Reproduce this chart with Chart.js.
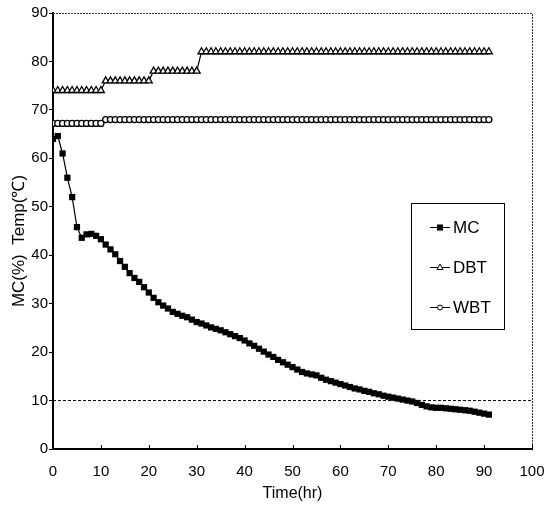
<!DOCTYPE html>
<html>
<head>
<meta charset="utf-8">
<script src="https://cdn.jsdelivr.net/npm/chart.js@4/dist/chart.umd.min.js"></script>
<style>
  html, body { margin: 0; padding: 0; background: #fff; }
  #wrap { width: 553px; height: 507px; }
</style>
</head>
<body>
<div id="wrap"><canvas id="chart-drying"></canvas></div>
<script>
// Drying schedule: moisture content and dry/wet bulb temps, hourly readings
const hours = [
    0, 1, 2, 3, 4, 5, 6, 7, 8, 9, 10, 11, 12, 13, 14, 15, 16, 17, 18, 19,
    20, 21, 22, 23, 24, 25, 26, 27, 28, 29, 30, 31, 32, 33, 34, 35, 36, 37, 38, 39,
    40, 41, 42, 43, 44, 45, 46, 47, 48, 49, 50, 51, 52, 53, 54, 55, 56, 57, 58, 59,
    60, 61, 62, 63, 64, 65, 66, 67, 68, 69, 70, 71, 72, 73, 74, 75, 76, 77, 78, 79,
    80, 81, 82, 83, 84, 85, 86, 87, 88, 89, 90, 91
];
const mcValues = [
    64.0, 64.6, 61.0, 56.0, 52.0, 45.8, 43.6, 44.3, 44.4, 44.0, 43.3, 42.2, 41.2, 40.2, 38.8, 37.6, 36.3, 35.3, 34.5, 33.4,
    32.3, 31.2, 30.3, 29.6, 29.0, 28.3, 27.9, 27.5, 27.2, 26.7, 26.2, 25.9, 25.5, 25.1, 24.8, 24.5, 24.1, 23.7, 23.3, 22.9,
    22.4, 21.8, 21.3, 20.7, 20.1, 19.5, 19.0, 18.4, 17.9, 17.4, 16.9, 16.4, 15.9, 15.6, 15.4, 15.2, 14.7, 14.3, 14.0, 13.7,
    13.4, 13.1, 12.8, 12.5, 12.3, 12.0, 11.8, 11.5, 11.3, 11.0, 10.8, 10.6, 10.4, 10.2, 10.0, 9.8, 9.5, 9.1, 8.8, 8.6,
    8.5, 8.5, 8.4, 8.3, 8.2, 8.1, 8.0, 7.9, 7.7, 7.5, 7.3, 7.1
];
const dbtValues = [
    74, 74, 74, 74, 74, 74, 74, 74, 74, 74, 74, 76, 76, 76, 76, 76, 76, 76, 76, 76,
    76, 78, 78, 78, 78, 78, 78, 78, 78, 78, 78, 82, 82, 82, 82, 82, 82, 82, 82, 82,
    82, 82, 82, 82, 82, 82, 82, 82, 82, 82, 82, 82, 82, 82, 82, 82, 82, 82, 82, 82,
    82, 82, 82, 82, 82, 82, 82, 82, 82, 82, 82, 82, 82, 82, 82, 82, 82, 82, 82, 82,
    82, 82, 82, 82, 82, 82, 82, 82, 82, 82, 82, 82
];
const wbtValues = [
    67.2, 67.2, 67.2, 67.2, 67.2, 67.2, 67.2, 67.2, 67.2, 67.2, 67.2, 68, 68, 68, 68, 68, 68, 68, 68, 68,
    68, 68, 68, 68, 68, 68, 68, 68, 68, 68, 68, 68, 68, 68, 68, 68, 68, 68, 68, 68,
    68, 68, 68, 68, 68, 68, 68, 68, 68, 68, 68, 68, 68, 68, 68, 68, 68, 68, 68, 68,
    68, 68, 68, 68, 68, 68, 68, 68, 68, 68, 68, 68, 68, 68, 68, 68, 68, 68, 68, 68,
    68, 68, 68, 68, 68, 68, 68, 68, 68, 68, 68, 68
];
// target moisture line
const targetX = [0, 100];
const targetY = [10, 10];

const xTicks = [0, 10, 20, 30, 40, 50, 60, 70, 80, 90, 100];
const yTicks = [0, 10, 20, 30, 40, 50, 60, 70, 80, 90];
const legendItems = ['MC', 'DBT', 'WBT'];
const yTitle = 'MC(%)  Temp(\u2103)';

const FONT = "'Liberation Sans', Arial, sans-serif";

function toPoints(xs, ys) {
    return xs.map((x, i) => ({ x: x, y: ys[i] }));
}

function drawMarker(ctx, style, x, y) {
    ctx.beginPath();
    if (style === 'rect') {
        ctx.fillStyle = '#000';
        ctx.fillRect(x - 3, y - 3, 6, 6);
        return;
    }
    if (style === 'triangle') {
        ctx.moveTo(x, y - 3.5);
        ctx.lineTo(x + 3, y + 2);
        ctx.lineTo(x - 3, y + 2);
        ctx.closePath();
    } else {
        ctx.arc(x, y, 2.5, 0, Math.PI * 2);
    }
    ctx.fillStyle = '#fff';
    ctx.fill();
    ctx.strokeStyle = '#000';
    ctx.lineWidth = 1;
    ctx.stroke();
}

// frame, inward x ticks, y title and the boxed legend
const framePlugin = {
    id: 'frame',
    afterDraw(chart) {
        const ctx = chart.ctx;
        const a = chart.chartArea;
        const xs = chart.scales.x;
        ctx.save();
        ctx.strokeStyle = '#333';
        ctx.lineWidth = 1;
        ctx.setLineDash([2, 1]);
        ctx.beginPath();
        ctx.moveTo(a.left, a.top + 0.5);
        ctx.lineTo(a.right + 0.5, a.top + 0.5);
        ctx.lineTo(a.right + 0.5, a.bottom);
        ctx.stroke();
        ctx.setLineDash([]);

        ctx.strokeStyle = '#000';
        xTicks.forEach(v => {
            const px = Math.round(xs.getPixelForValue(v)) + 0.5;
            ctx.beginPath();
            ctx.moveTo(px, a.bottom);
            ctx.lineTo(px, a.bottom - 4);
            ctx.stroke();
        });

        // rotated y title
        ctx.save();
        ctx.translate(19, 241);
        ctx.rotate(-Math.PI / 2);
        ctx.font = '17px ' + FONT;
        ctx.fillStyle = '#000';
        ctx.textAlign = 'center';
        ctx.textBaseline = 'middle';
        ctx.fillText(yTitle, 0, 0);
        ctx.restore();

        // legend box
        const bx = 411, by = 203, bw = 93, bh = 126;
        ctx.lineWidth = 1;
        ctx.strokeStyle = '#000';
        ctx.strokeRect(bx + 0.5, by + 0.5, bw, bh);
        const styles = ['rect', 'triangle', 'circle'];
        ctx.font = '17px ' + FONT;
        ctx.textBaseline = 'middle';
        ctx.textAlign = 'left';
        legendItems.forEach((name, i) => {
            const ly = by + 24 + i * 40;
            ctx.strokeStyle = '#000';
            ctx.lineWidth = 1;
            ctx.beginPath();
            ctx.moveTo(430, ly + 0.5);
            ctx.lineTo(450, ly + 0.5);
            ctx.stroke();
            drawMarker(ctx, styles[i], 440, ly + 0.5);
            ctx.fillStyle = '#000';
            ctx.fillText(name, 453, ly + 1);
        });
        ctx.restore();
    }
};

new Chart(document.getElementById('chart-drying'), {
    type: 'line',
    data: {
        datasets: [
            {
                label: 'MC',
                data: toPoints(hours, mcValues),
                borderColor: '#000',
                borderWidth: 1.2,
                pointStyle: 'rect',
                pointRadius: 4.4,
                pointBackgroundColor: '#000',
                pointBorderColor: '#000',
                pointBorderWidth: 0,
                tension: 0,
            },
            {
                label: 'DBT',
                data: toPoints(hours, dbtValues),
                borderColor: '#000',
                borderWidth: 1.2,
                pointStyle: 'triangle',
                pointRadius: 4,
                pointBackgroundColor: '#fff',
                pointBorderColor: '#000',
                pointBorderWidth: 1.3,
                tension: 0,
            },
            {
                label: 'WBT',
                data: toPoints(hours, wbtValues),
                borderColor: '#000',
                borderWidth: 1.2,
                pointStyle: 'circle',
                pointRadius: 3,
                pointBackgroundColor: '#fff',
                pointBorderColor: '#000',
                pointBorderWidth: 1.3,
                tension: 0,
            },
            {
                label: 'target',
                data: toPoints(targetX, targetY),
                borderColor: '#000',
                borderWidth: 1,
                borderDash: [3, 2],
                pointRadius: 0,
                tension: 0,
            },
        ],
    },
    options: {
        responsive: true,
        maintainAspectRatio: false,
        animation: false,
        events: [],
        layout: { padding: { top: 13, right: 21, left: 0, bottom: 0 } },
        plugins: {
            legend: { display: false },
            tooltip: { enabled: false },
        },
        scales: {
            x: {
                type: 'linear',
                min: 0,
                max: 100,
                afterBuildTicks: axis => { axis.ticks = xTicks.map(v => ({ value: v })); },
                afterFit: axis => {
                    axis.height = 58;
                    axis.paddingLeft = 0;
                    axis.paddingRight = 0;
                },
                ticks: {
                    color: '#000',
                    font: { family: FONT, size: 15 },
                    padding: 14,
                    maxRotation: 0,
                },
                grid: { drawOnChartArea: false, drawTicks: false },
                border: { color: '#000', width: 2 },
                title: {
                    display: true,
                    text: 'Time(hr)',
                    color: '#000',
                    font: { family: FONT, size: 16 },
                    padding: { top: 0, bottom: 4 },
                },
            },
            y: {
                min: 0,
                max: 90,
                afterBuildTicks: axis => { axis.ticks = yTicks.map(v => ({ value: v })); },
                afterFit: axis => { axis.width = 53; },
                ticks: {
                    color: '#000',
                    font: { family: FONT, size: 15 },
                    padding: 1,
                },
                grid: { drawOnChartArea: false, drawTicks: true, tickLength: 4, color: '#000' },
                border: { color: '#000', width: 2 },
            },
        },
    },
    plugins: [framePlugin],
});
</script>
</body>
</html>
